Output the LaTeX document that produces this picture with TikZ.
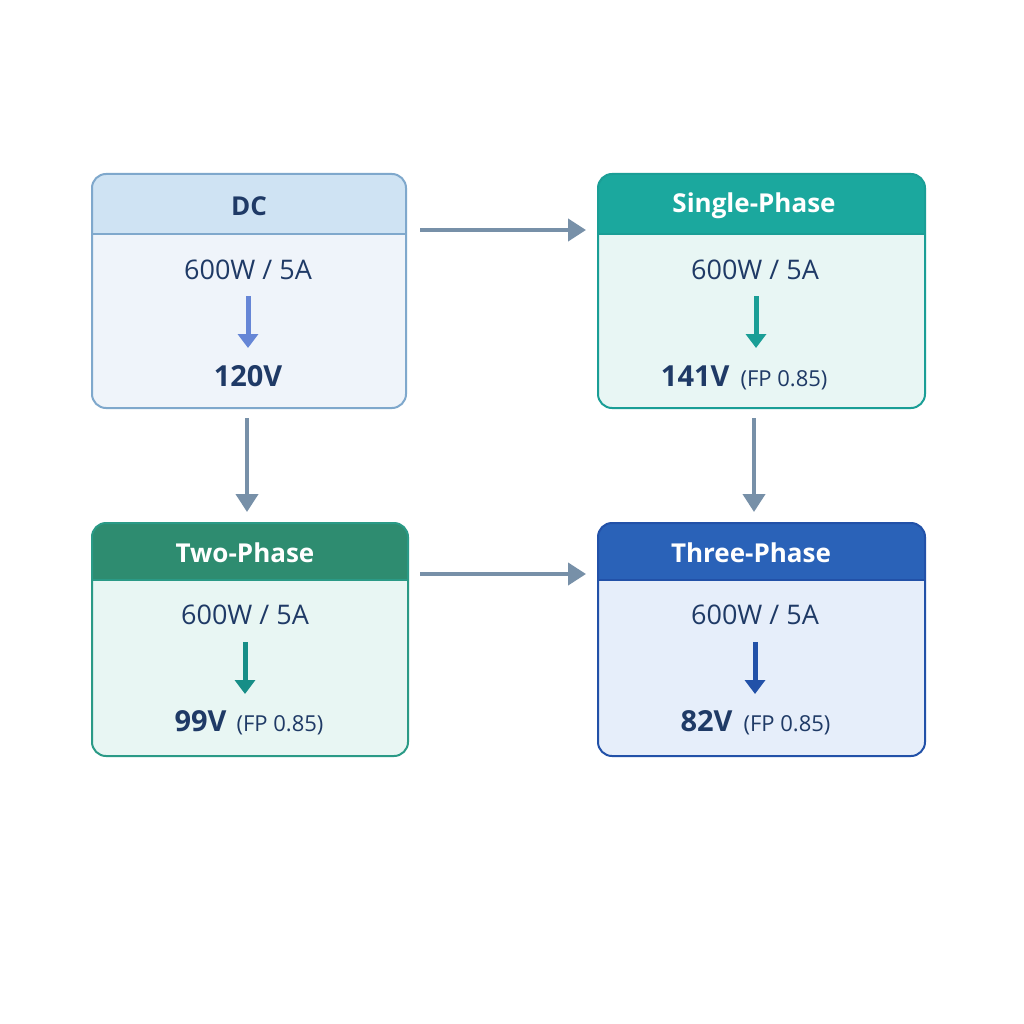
\documentclass[tikz,border=0pt]{standalone}
\usepackage{fontspec}
\setmainfont{Open Sans}
\begin{document}
\begin{tikzpicture}[x=1pt,y=-1pt,
  conn/.style={draw=arr,line width=4pt,-{Triangle[length=18pt,width=22pt]}},
  blk/.style={line width=5pt,-{Triangle[length=14pt,width=20pt]}},
  val/.style={text=navy,font=\fontsize{27}{30}\selectfont},
  big/.style={text=navy,font=\fontsize{29}{32}\selectfont\bfseries},
  hd/.style={font=\fontsize{26}{30}\selectfont\bfseries}]
\usetikzlibrary{arrows.meta}
\definecolor{navy}{HTML}{1F3A66}
\definecolor{arr}{HTML}{7790A8}
\definecolor{dcH}{HTML}{CFE3F3}\definecolor{dcB}{HTML}{EFF4FA}\definecolor{dcL}{HTML}{7FA8CC}
\definecolor{spH}{HTML}{1BA89E}\definecolor{spB}{HTML}{E8F6F4}\definecolor{spL}{HTML}{1A9E96}
\definecolor{tpH}{HTML}{2E8C70}\definecolor{tpB}{HTML}{E8F6F3}\definecolor{tpL}{HTML}{2A9A86}
\definecolor{thH}{HTML}{2A62B8}\definecolor{thB}{HTML}{E6EEFA}\definecolor{thL}{HTML}{2251A8}
\useasboundingbox[fill=white] (0,0) rectangle (1024,1024);
% box macro args: x1,y1,x2,y2,yh,H,B,L
\newcommand{\mybox}[9]{%
 \fill[#7,rounded corners=14pt] (#1,#2) rectangle (#3,#4);
 \begin{scope}
 \clip[rounded corners=14pt] (#1,#2) rectangle (#3,#4);
 \fill[#6] (#1,#2) rectangle (#3,#5);
 \end{scope}
 \draw[#8,line width=1.8pt] (#1,#5) -- (#3,#5);
 \draw[#8,line width=2pt,rounded corners=14pt] (#1,#2) rectangle (#3,#4);
 \node[hd,text=#9] at ({(#1+#3)/2},{(#2+#5)/2}) {};}
% DC
\mybox{92}{174}{406}{408}{234}{dcH}{dcB}{dcL}{navy}
\node[hd,text=navy] (h1) at (249,206) {DC};
\node[val] (a1) at (248,270) {600W / 5A};
\node[big] (b1) at (248,376) {120V};
\draw[blk,draw=dcL!80!blue,fill=dcL!80!blue] (248,296) -- (248,348);
% Single
\mybox{598}{174}{925}{408}{234}{spH}{spB}{spL}{white}
\node[hd,text=white] (h2) at (754,206) {Single-Phase};
\node[val] (a2) at (755,270) {600W / 5A};
\node[big,anchor=base east] (b2) at (733,386) {141V};
\node[val,font=\fontsize{22}{26}\selectfont,anchor=base west] (c2) at (737,386) {(FP 0.85)};
\draw[blk,draw=spL,fill=spL] (756,296) -- (756,348);
% Two
\mybox{92}{523}{408}{756}{580}{tpH}{tpB}{tpL}{white}
\node[hd,text=white] (h3) at (245,553) {Two-Phase};
\node[val] (a3) at (245,615) {600W / 5A};
\node[big,anchor=base east] (b3) at (230,731) {99V};
\node[val,font=\fontsize{22}{26}\selectfont,anchor=base west] (c3) at (233,731) {(FP 0.85)};
\draw[blk,draw=spL!90!black,fill=spL!90!black] (245,642) -- (245,694);
% Three
\mybox{598}{523}{925}{756}{580}{thH}{thB}{thL}{white}
\node[hd,text=white] (h4) at (751,553) {Three-Phase};
\node[val] (a4) at (755,615) {600W / 5A};
\node[big,anchor=base east] (b4) at (736,731) {82V};
\node[val,font=\fontsize{22}{26}\selectfont,anchor=base west] (c4) at (740,731) {(FP 0.85)};
\draw[blk,draw=thL,fill=thL] (755,642) -- (755,694);
% connectors
\coordinate (p1) at (420,230); \coordinate (q1) at (586,230);
\coordinate (p2) at (247,418); \coordinate (q2) at (247,512);
\coordinate (p3) at (754,418); \coordinate (q3) at (754,512);
\coordinate (p4) at (420,574); \coordinate (q4) at (586,574);
\draw[conn] (p1) -- (q1);
\draw[conn] (p2) -- (q2);
\draw[conn] (p3) -- (q3);
\draw[conn] (p4) -- (q4);
\end{tikzpicture}
\end{document}
